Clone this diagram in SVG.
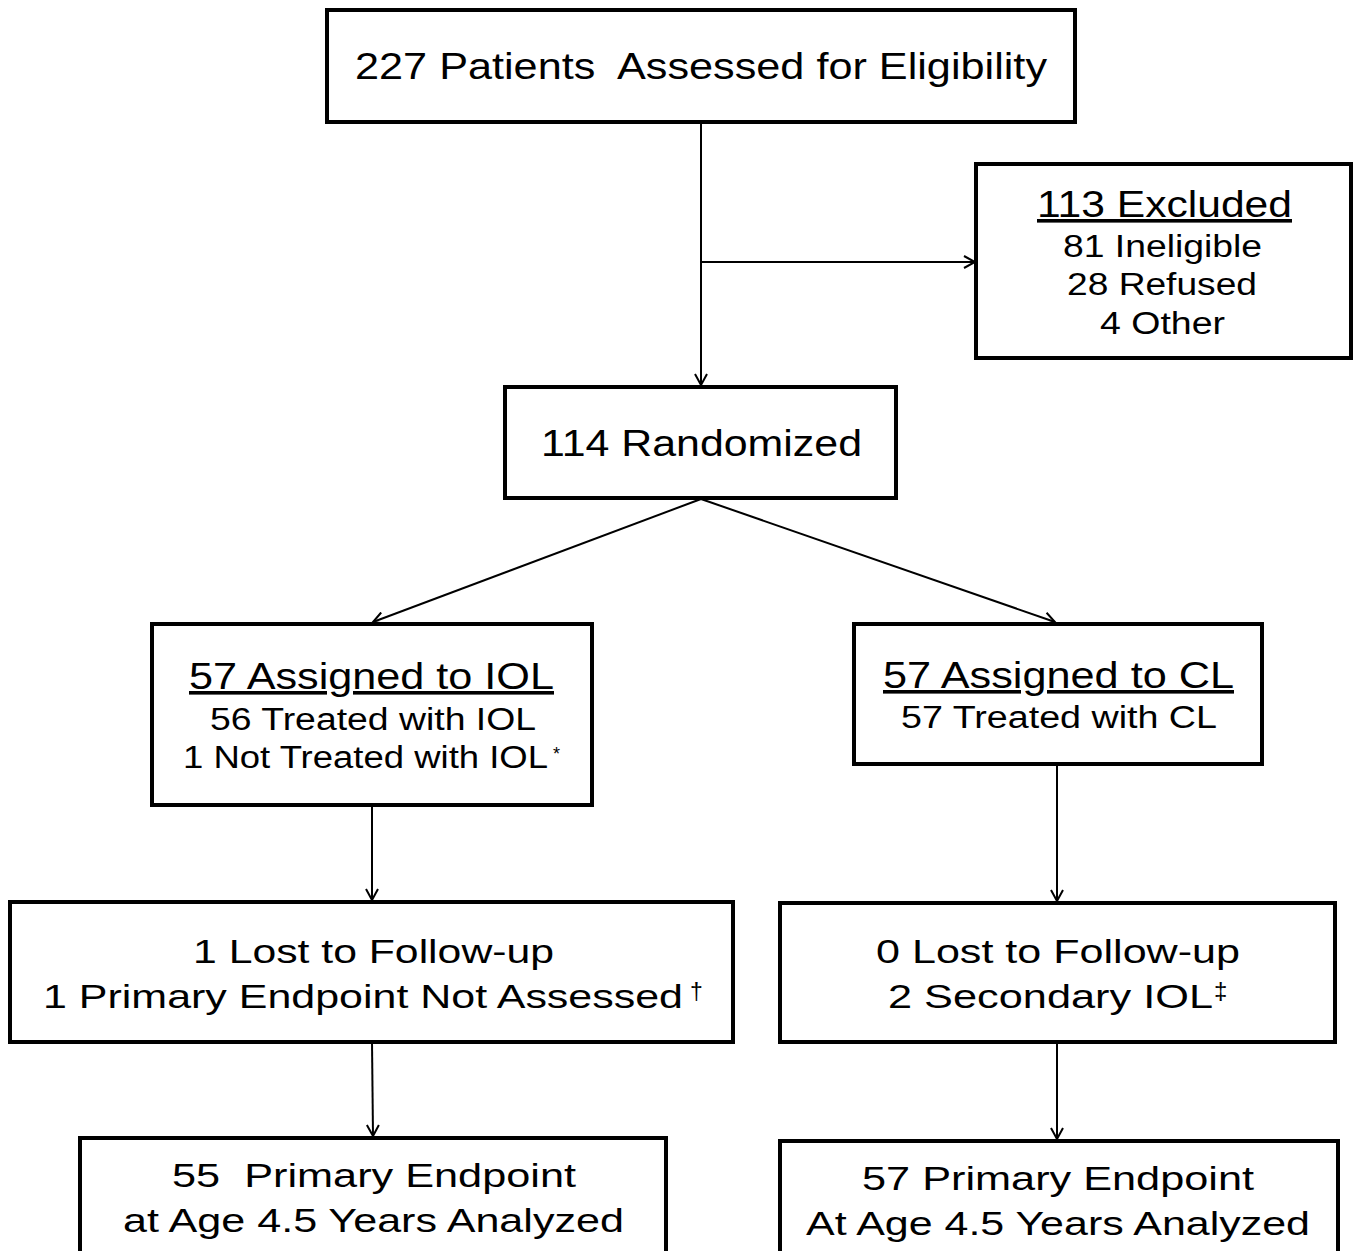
<svg xmlns="http://www.w3.org/2000/svg" width="1355" height="1251" viewBox="0 0 1355 1251">
<style>
.box{fill:#fff;stroke:#000;stroke-width:4}
.t{font-family:"Liberation Sans",Arial,sans-serif;fill:#000;text-anchor:middle}
.h{font-size:37px}
.hd{font-size:36px;text-decoration:underline}
.m{font-size:34px}
.sm{font-size:31px}
.sup{font-family:"Liberation Sans",Arial,sans-serif;fill:#000}
.c{stroke:#000;stroke-width:2;fill:none}
</style>
<defs>
<marker id="ah" markerWidth="14" markerHeight="14" refX="12" refY="7" orient="auto" markerUnits="userSpaceOnUse">
<path d="M1,1 L12,7 L1,13" fill="none" stroke="#000" stroke-width="2"/>
</marker>
</defs>
<rect width="1355" height="1251" fill="#fff"/>
<g id="connectors">
<line class="c" x1="701" y1="122" x2="701" y2="385" marker-end="url(#ah)"/>
<line class="c" x1="701" y1="262" x2="975" y2="262" marker-end="url(#ah)"/>
<line class="c" x1="701" y1="499" x2="373" y2="622" marker-end="url(#ah)"/>
<line class="c" x1="701" y1="499" x2="1055" y2="622" marker-end="url(#ah)"/>
<line class="c" x1="372" y1="805" x2="372" y2="900" marker-end="url(#ah)"/>
<line class="c" x1="1057" y1="764" x2="1057" y2="901" marker-end="url(#ah)"/>
<line class="c" x1="372" y1="1042" x2="373" y2="1136" marker-end="url(#ah)"/>
<line class="c" x1="1057" y1="1042" x2="1057" y2="1139" marker-end="url(#ah)"/>
</g>
<g id="n-assessed">
<rect class="box" x="327" y="10" width="748" height="112"/>
<text class="t h" x="701" y="79" xml:space="preserve" textLength="692" lengthAdjust="spacingAndGlyphs">227 Patients  Assessed for Eligibility</text>
</g>
<g id="n-excluded">
<rect class="box" x="976" y="164" width="375" height="194"/>
<text class="t hd" x="1164.5" y="217" textLength="255" lengthAdjust="spacingAndGlyphs">113 Excluded</text>
<text class="t sm" x="1162.5" y="257" textLength="199" lengthAdjust="spacingAndGlyphs">81 Ineligible</text>
<text class="t sm" x="1162" y="295" textLength="190" lengthAdjust="spacingAndGlyphs">28 Refused</text>
<text class="t sm" x="1162.5" y="334" textLength="125" lengthAdjust="spacingAndGlyphs">4 Other</text>
</g>
<g id="n-randomized">
<rect class="box" x="505" y="387" width="391" height="111"/>
<text class="t h" x="701.5" y="456" textLength="321" lengthAdjust="spacingAndGlyphs">114 Randomized</text>
</g>
<g id="n-iol">
<rect class="box" x="152" y="624" width="440" height="181"/>
<text class="t hd" x="371.5" y="689" textLength="365" lengthAdjust="spacingAndGlyphs">57 Assigned to IOL</text>
<text class="t sm" x="373" y="730" textLength="326" lengthAdjust="spacingAndGlyphs">56 Treated with IOL</text>
<text class="t sm" x="365.5" y="768" textLength="365" lengthAdjust="spacingAndGlyphs">1 Not Treated with IOL</text>
<text class="sup" x="553" y="760" font-size="18">*</text>
</g>
<g id="n-cl">
<rect class="box" x="854" y="624" width="408" height="140"/>
<text class="t hd" x="1058.5" y="688" textLength="351" lengthAdjust="spacingAndGlyphs">57 Assigned to CL</text>
<text class="t sm" x="1059" y="728" textLength="316" lengthAdjust="spacingAndGlyphs">57 Treated with CL</text>
</g>
<g id="n-lost-iol">
<rect class="box" x="10" y="902" width="723" height="140"/>
<text class="t m" x="373.5" y="963" textLength="361" lengthAdjust="spacingAndGlyphs">1 Lost to Follow-up</text>
<text class="t m" x="363" y="1008" textLength="640" lengthAdjust="spacingAndGlyphs">1 Primary Endpoint Not Assessed</text>
<text class="sup" x="690" y="1000" font-size="23">†</text>
</g>
<g id="n-lost-cl">
<rect class="box" x="780" y="903" width="555" height="139"/>
<text class="t m" x="1058" y="963" textLength="364" lengthAdjust="spacingAndGlyphs">0 Lost to Follow-up</text>
<text class="t m" x="1050.5" y="1008" textLength="325" lengthAdjust="spacingAndGlyphs">2 Secondary IOL</text>
<text class="sup" x="1214" y="999" font-size="24">‡</text>
</g>
<g id="n-end-iol">
<rect class="box" x="80" y="1138" width="586" height="130"/>
<text class="t m" x="374" y="1187" xml:space="preserve" textLength="404" lengthAdjust="spacingAndGlyphs">55  Primary Endpoint</text>
<text class="t m" x="373.5" y="1232" textLength="501" lengthAdjust="spacingAndGlyphs">at Age 4.5 Years Analyzed</text>
</g>
<g id="n-end-cl">
<rect class="box" x="780" y="1141" width="558" height="130"/>
<text class="t m" x="1058" y="1190" textLength="392" lengthAdjust="spacingAndGlyphs">57 Primary Endpoint</text>
<text class="t m" x="1058" y="1235" textLength="504" lengthAdjust="spacingAndGlyphs">At Age 4.5 Years Analyzed</text>
</g>
</svg>
